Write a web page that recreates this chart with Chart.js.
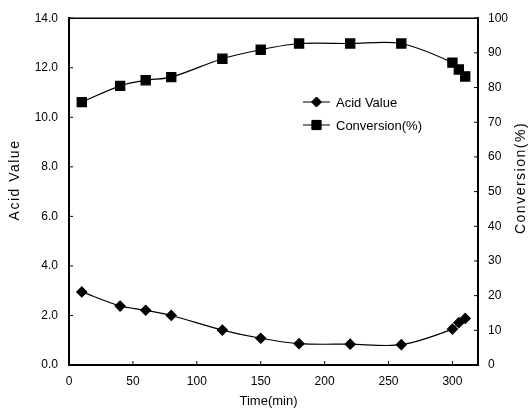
<!DOCTYPE html>
<html>
<head>
<meta charset="utf-8">
<script src="https://cdn.jsdelivr.net/npm/chart.js@4/dist/chart.umd.min.js"></script>
<style>
  html, body { margin: 0; padding: 0; background: #fff; }
  #wrap { width: 529px; height: 416px; }
</style>
</head>
<body>
<div id="wrap"><canvas id="chart"></canvas></div>
<script>
// readings from the figure
const times = [10, 40, 60, 80, 120, 150, 180, 220, 260, 300, 305, 310];
const acidValue = [2.95, 2.38, 2.21, 2.0, 1.41, 1.08, 0.86, 0.84, 0.82, 1.45, 1.71, 1.88];
const conversion = [75.8, 80.5, 82.1, 83.0, 88.3, 90.9, 92.7, 92.7, 92.7, 87.2, 85.2, 83.2];
const xTicks = [0, 50, 100, 150, 200, 250, 300];
const seriesNames = ['Acid Value', 'Conversion(%)'];
const xTitle = 'Time(min)';
const yLeftTitle = 'Acid Value';
const yRightTitle = 'Conversion(%)';

const FONT = '"Liberation Sans", Arial, sans-serif';

const toPoints = (vals) => times.map((t, i) => ({ x: t, y: vals[i] }));

// frame top line, inward tick marks, rotated titles and in-plot legend
const decor = {
    id: 'decor',
    afterDraw(chart) {
        const { ctx, chartArea: a, scales } = chart;
        ctx.save();
        ctx.strokeStyle = '#000';
        ctx.lineWidth = 1.5;
        ctx.beginPath();
        ctx.moveTo(a.left, a.top);
        ctx.lineTo(a.right, a.top);
        ctx.stroke();

        ctx.lineWidth = 1;
        ctx.beginPath();
        scales.x.ticks.forEach(t => {
            const px = scales.x.getPixelForValue(t.value);
            ctx.moveTo(px, a.bottom);
            ctx.lineTo(px, a.bottom - 4);
        });
        scales.y.ticks.forEach(t => {
            const py = scales.y.getPixelForValue(t.value);
            ctx.moveTo(a.left, py);
            ctx.lineTo(a.left + 4, py);
        });
        scales.y1.ticks.forEach(t => {
            const py = scales.y1.getPixelForValue(t.value);
            ctx.moveTo(a.right, py);
            ctx.lineTo(a.right - 4, py);
        });
        ctx.stroke();

        // axis titles
        ctx.fillStyle = '#000';
        ctx.textAlign = 'center';
        ctx.textBaseline = 'middle';
        ctx.font = '13px ' + FONT;
        ctx.fillText(xTitle, (a.left + a.right) / 2 - 5, 401);

        ctx.font = '14px ' + FONT;
        ctx.letterSpacing = '1.5px';
        ctx.save();
        ctx.translate(15, 180);
        ctx.rotate(-Math.PI / 2);
        ctx.fillText(yLeftTitle, 0, 0);
        ctx.restore();
        ctx.save();
        ctx.translate(521, 178);
        ctx.rotate(-Math.PI / 2);
        ctx.fillText(yRightTitle, 0, 0);
        ctx.restore();
        ctx.letterSpacing = '0px';

        // legend
        ctx.font = '13px ' + FONT;
        ctx.textAlign = 'left';
        chart.data.datasets.forEach((ds, i) => {
            const ly = 102 + i * 23;
            const lx = 303;
            ctx.lineWidth = 1;
            ctx.beginPath();
            ctx.moveTo(lx, ly);
            ctx.lineTo(lx + 27, ly);
            ctx.stroke();
            Chart.helpers.drawPoint(ctx, {
                pointStyle: ds.pointStyle,
                radius: ds.pointRadius,
                borderWidth: 1
            }, lx + 13.5, ly);
            ctx.fill();
            ctx.fillText(ds.label, lx + 33, ly + 1);
        });
        ctx.restore();
    }
};

const ctx = document.getElementById('chart').getContext('2d');

new Chart(ctx, {
    type: 'line',
    data: {
        datasets: [
            {
                label: seriesNames[0],
                data: toPoints(acidValue),
                yAxisID: 'y',
                borderColor: '#000',
                backgroundColor: '#000',
                borderWidth: 1.2,
                pointStyle: 'rectRot',
                pointRadius: 5,
                tension: 0.3
            },
            {
                label: seriesNames[1],
                data: toPoints(conversion),
                yAxisID: 'y1',
                borderColor: '#000',
                backgroundColor: '#000',
                borderWidth: 1.2,
                pointStyle: 'rect',
                pointRadius: 6.5,
                tension: 0.3
            }
        ]
    },
    options: {
        responsive: true,
        maintainAspectRatio: false,
        animation: false,
        layout: { padding: { top: 11, left: 0, right: 0, bottom: 0 } },
        plugins: {
            legend: { display: false },
            tooltip: { enabled: false }
        },
        scales: {
            x: {
                type: 'linear',
                min: 0,
                max: 320,
                afterBuildTicks: (s) => { s.ticks = xTicks.map(v => ({ value: v })); },
                afterFit: (s) => { s.height = 51; },
                grid: { drawOnChartArea: false, drawTicks: false },
                border: { color: '#000', width: 2 },
                ticks: {
                    autoSkip: false,
                    padding: 9,
                    color: '#000',
                    font: { family: FONT, size: 12 }
                }
            },
            y: {
                position: 'left',
                min: 0,
                max: 14,
                afterFit: (s) => { s.width = 69; },
                grid: { drawOnChartArea: false, drawTicks: false },
                border: { color: '#000', width: 2 },
                ticks: {
                    stepSize: 2,
                    padding: 11,
                    color: '#000',
                    font: { family: FONT, size: 12 },
                    callback: (v) => v.toFixed(1)
                }
            },
            y1: {
                position: 'right',
                min: 0,
                max: 100,
                afterFit: (s) => { s.width = 51; },
                grid: { drawOnChartArea: false, drawTicks: false },
                border: { color: '#000', width: 2 },
                ticks: {
                    stepSize: 10,
                    padding: 10,
                    color: '#000',
                    font: { family: FONT, size: 12 }
                }
            }
        }
    },
    plugins: [decor]
});
</script>
</body>
</html>
